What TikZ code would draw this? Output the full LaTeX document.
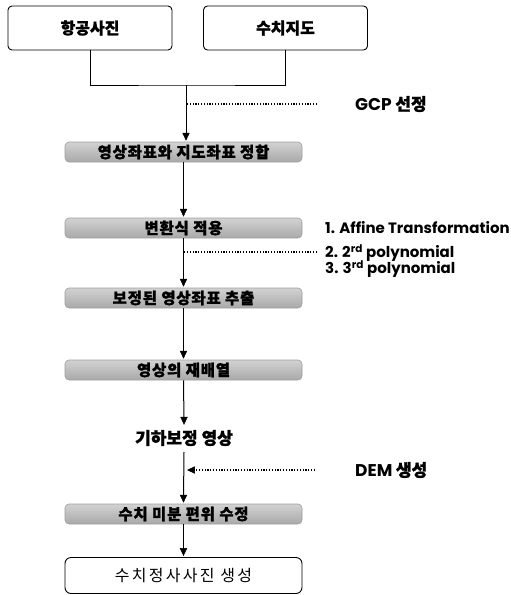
\documentclass[tikz,border=0pt]{standalone}
\usepackage{fontspec}
\setmainfont{Poppins}
\newfontfamily\kr{Noto Sans CJK KR}
\newfontfamily\krb{Noto Sans CJK KR}[FakeBold=1.2]
\newfontfamily\krs{Noto Sans CJK KR}[LetterSpace=14]
\newfontfamily\krg{Noto Sans CJK KR}[FakeBold=1.2,LetterSpace=5]
\newfontfamily\en{Poppins}
\usetikzlibrary{shapes.geometric}
\tikzset{
  tipdn/.style={isosceles triangle,isosceles triangle apex angle=50,shape border rotate=270,fill=black,draw=black,line width=0.5pt,inner sep=0pt,minimum height=7pt,minimum width=6pt,anchor=apex},
  tiplf/.style={isosceles triangle,isosceles triangle apex angle=50,shape border rotate=180,fill=black,draw=black,line width=0.5pt,inner sep=0pt,minimum height=7pt,minimum width=6pt,anchor=apex}}
\begin{document}
\begin{tikzpicture}[x=1pt,y=1pt,
  topbox/.style={draw=black,line width=0.9pt,rounded corners=4pt,minimum width=164pt,minimum height=44pt,font=\krb\bfseries\fontsize{16}{18}\selectfont},
  graybox/.style={rounded corners=4pt,top color=gray!35,bottom color=gray!68,draw=gray!75,line width=0.6pt,minimum width=237pt,minimum height=20pt,inner sep=0pt,font=\krg\bfseries\fontsize{15.5}{17}\selectfont},
  endbox/.style={draw=black,line width=0.9pt,rounded corners=6pt,minimum width=237pt,minimum height=36pt,font=\krs\fontsize{16}{18}\selectfont},
  plain/.style={font=\krb\bfseries\fontsize{17}{19}\selectfont,inner sep=1pt},
  note/.style={font=\en\bfseries\fontsize{15}{17}\selectfont,inner sep=0pt,anchor=west},
  lab/.style={font=\en\bfseries\fontsize{17}{19}\selectfont,anchor=west,inner sep=0pt},
  flow/.style={line width=1pt},
  conn/.style={line width=0.9pt},
  dotline/.style={line width=1.2pt,dash pattern=on 1.2pt off 1.6pt,black}]
\useasboundingbox (0,0) rectangle (511,-595);

\node[topbox] (a) at (90,-28) {항공사진};
\node[topbox] (b) at (285.5,-28) {수치지도};
\coordinate (j) at (186,-85);
\draw[conn] (a.south) |- (j) -| (b.south);

\node[graybox] (n1) at (183.5,-152) {영상좌표와 지도좌표 정합};
\coordinate (e1) at ([yshift=1pt]j |- n1.north);
\draw[flow] (j) -- ([yshift=3pt]e1);
\node[tipdn] (h1) at (e1) {};

\node[lab] (g) at (355,-104) {GCP {\krb\bfseries 선정}};
\coordinate (ge) at (317,-104);
\draw[dotline] (ge) -- (ge -| j);

\node[graybox] (n2) at (183.5,-228) {변환식 적용};
\coordinate (e2) at ([yshift=1pt]n2.north);
\draw[flow] (n1.south) -- ([yshift=3pt]e2);
\node[tipdn] (h2) at (e2) {};

\node[graybox] (n3) at (183.5,-298) {보정된 영상좌표 추출};
\coordinate (e3) at ([yshift=1pt]n3.north);
\draw[flow] (n2.south) -- ([yshift=3pt]e3);
\node[tipdn] (h3) at (e3) {};

\node[note] (t1) at (325,-228) {1. Affine Transformation};
\node[note] (t2) at (325,-253) {2. 2\textsuperscript{rd} polynomial};
\node[note] (t3) at (325,-269) {3. 3\textsuperscript{rd} polynomial};
\coordinate (ae) at (317,-252);
\draw[dotline] (ae) -- (ae -| n2.south);

\node[graybox] (n4) at (183.5,-370) {영상의 재배열};
\coordinate (e4) at ([yshift=1pt]n4.north);
\draw[flow] (n3.south) -- ([yshift=3pt]e4);
\node[tipdn] (h4) at (e4) {};

\node[plain] (n5) at (184,-438) {기하보정 영상};
\coordinate (e5) at ([yshift=4pt]n5.north);
\draw[flow] (n4.south) -- ([yshift=3pt]e5);
\node[tipdn] (h5) at (e5) {};

\node[graybox] (n6) at (183.5,-514) {수치 미분 편위 수정};
\coordinate (e6) at ([yshift=1pt]n6.north);
\draw[flow] ([yshift=-5pt]n5.south) -- ([yshift=3pt]e6);
\node[tipdn] (h6) at (e6) {};

\node[lab] (d) at (355,-470) {DEM {\krb\bfseries 생성}};
\coordinate (de) at (315,-470);
\coordinate (dt) at ([xshift=3pt]de -| n5.south);
\draw[dotline] (de) -- ([xshift=5pt]dt);
\node[tiplf] (hd) at (dt) {};

\node[endbox] (n7) at (183.5,-575.5) {수치정사사진 생성};
\coordinate (e7) at ([yshift=1pt]n7.north);
\draw[flow] (n6.south) -- ([yshift=3pt]e7);
\node[tipdn] (h7) at (e7) {};
\end{tikzpicture}
\end{document}
